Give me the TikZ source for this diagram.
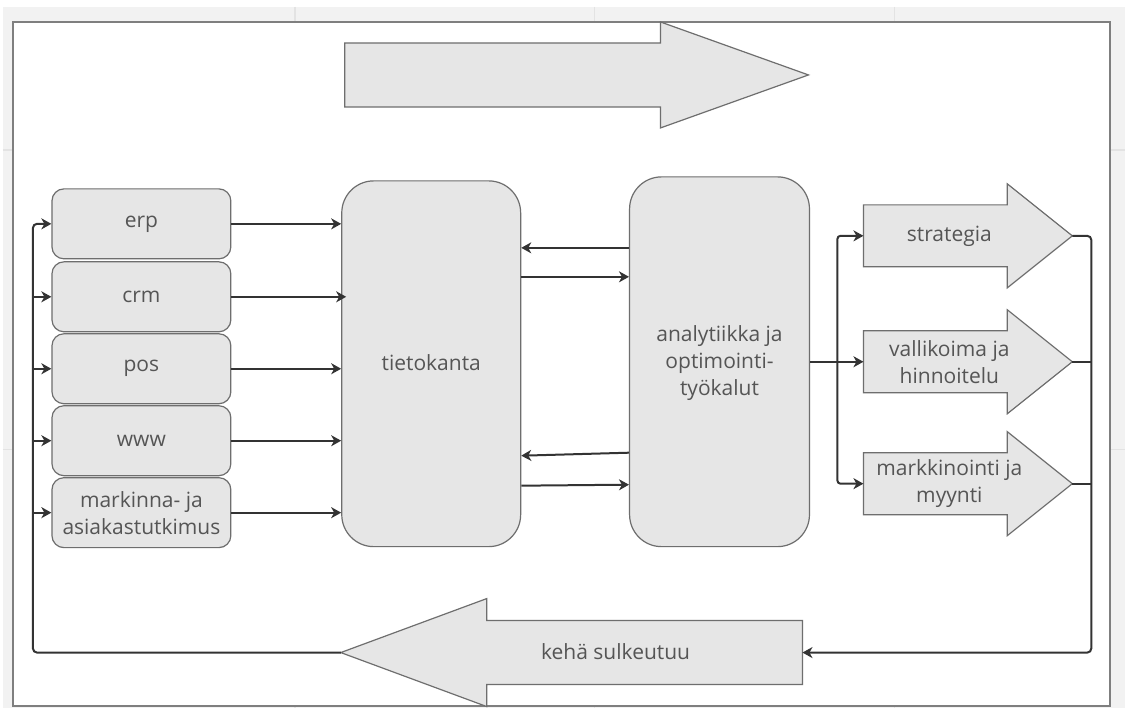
\documentclass[tikz,border=0pt]{standalone}
\usepackage{fontspec}
\setmainfont{Open Sans}
\usetikzlibrary{arrows.meta,calc}
\definecolor{shapefill}{HTML}{E6E6E6}
\definecolor{shapeline}{HTML}{6E6E6E}
\definecolor{conncol}{HTML}{333333}
\definecolor{txtcol}{HTML}{555555}
\definecolor{bggray}{HTML}{F2F2F2}
\definecolor{gridcol}{HTML}{E3E3E3}
\definecolor{framecol}{HTML}{7F7F7F}
\newcommand\blockarrowshape[6]{%
  \path[arrowbody] (#1,{#4-#5}) -- (#2,{#4-#5}) -- (#2,{#4-#6}) -- (#3,#4)
    -- (#2,{#4+#6}) -- (#2,{#4+#5}) -- (#1,{#4+#5}) -- cycle;}
\begin{document}
\begin{tikzpicture}[x=1pt,y=-1pt,
  every node/.style={font=\fontsize{21}{27}\selectfont, text=txtcol, align=center, inner sep=0pt},
  srcbox/.style={draw=shapeline, fill=shapefill, line width=1.2pt, rounded corners=12pt,
    minimum width=179pt, minimum height=70pt},
  bigbox/.style={draw=shapeline, fill=shapefill, line width=1.2pt, rounded corners=32pt},
  arrowbody/.style={draw=shapeline, fill=shapefill, line width=1.2pt, line join=miter},
  conn/.style={draw=conncol, line width=2pt, -{Stealth[length=10pt,width=11pt,inset=3pt]}},
  plain/.style={draw=conncol, line width=2pt},
  txt/.style={}]
% background
\fill[white] (0,0) rectangle (1126,708);
\fill[bggray] (3,7) rectangle (1126,708);
\foreach \gx in {295,595,895} \draw[gridcol, line width=1.5pt] (\gx,7) -- (\gx,708);
\foreach \gy in {150,450} \draw[gridcol, line width=1.5pt] (3,\gy) -- (1126,\gy);
\draw[framecol, fill=white, line width=2pt] (13,22) rectangle (1111,706);

% top arrow
\blockarrowshape{345}{661}{809}{75}{32}{53}

% source boxes
\node[srcbox] (erp) at (141.5,224) {erp};
\node[srcbox] (crm) at (141.5,297) {crm};
\node[srcbox] (pos) at (141.5,369) {pos};
\node[srcbox] (www) at (141.5,441) {www};
\node[srcbox] (mark) at (141.5,513) {markinna- ja\\asiakastutkimus};

% database and analytics
\node[bigbox, minimum width=179pt, minimum height=366pt] (tieto) at (431.5,364) {};
\node (tietotxt) at (431.5,363) {tietokanta};
\node[bigbox, minimum width=180pt, minimum height=370pt] (ana) at (720,362) {};
\node (anatxt) at (720,363) {analytiikka ja\\optimointi-\\työkalut};

% output arrows
\blockarrowshape{864}{1008}{1073}{236}{31}{52}
\blockarrowshape{864}{1008}{1073}{362}{31}{52}
\blockarrowshape{864}{1008}{1073}{484}{31}{52}
\coordinate (s1tail) at (864,236); \coordinate (s1tip) at (1073,236);
\coordinate (s2tail) at (864,362); \coordinate (s2tip) at (1073,362);
\coordinate (s3tail) at (864,484); \coordinate (s3tip) at (1073,484);
\node (strat) at (950,236) {strategia};
\node (valli) at (950,362) {vallikoima ja\\hinnoitelu};
\node (markk) at (950,484) {markkinointi ja\\myynti};

% closing arrow
\blockarrowshape{803}{487}{341}{653}{32}{54}
\coordinate (kehatail) at (803,653); \coordinate (kehatip) at (341,653);
\node (keha) at (616,652) {kehä sulkeutuu};

% buses
\coordinate (lbus) at (33,400);
\coordinate (rbus) at (838,400);
\coordinate (rrbus) at (1092,400);

% left loop back into sources
\draw[conn, rounded corners=4pt] (kehatip) -- (kehatip -| lbus) -- (erp.west -| lbus) -- (erp.west);
\foreach \b in {crm,pos,www,mark} \draw[conn] (\b.west -| lbus) -- (\b.west);

% sources to database
\draw[conn] (erp.east) -- (erp.east -| tieto.west);
\draw[conn] (crm.east) -- ($(crm.east -| tieto.west)+(5,0)$);
\draw[conn] (pos.east) -- (pos.east -| tieto.west);
\draw[conn] (www.east) -- (www.east -| tieto.west);
\draw[conn] (mark.east) -- (mark.east -| tieto.west);

% database <-> analytics
\draw[conn] (ana.west |- 0,248) -- (tieto.east |- 0,248);
\draw[conn] (tieto.east |- 0,277) -- (ana.west |- 0,277);
\draw[conn] (ana.west |- 0,453) -- (tieto.east |- 0,456);
\draw[conn] (tieto.east |- 0,486) -- (ana.west |- 0,485);

% analytics to outputs
\draw[conn] (ana.east) -- (s2tail);
\draw[conn, rounded corners=3pt] (ana.east -| rbus) |- (s1tail);
\draw[conn, rounded corners=3pt] (ana.east -| rbus) |- (s3tail);

% outputs to closing arrow
\draw[conn, rounded corners=4pt] (s1tip) -- (s1tip -| rrbus) -- (kehatail -| rrbus) -- (kehatail);
\draw[plain] (s2tip) -- (s2tip -| rrbus);
\draw[plain] (s3tip) -- (s3tip -| rrbus);
\end{tikzpicture}
\end{document}
